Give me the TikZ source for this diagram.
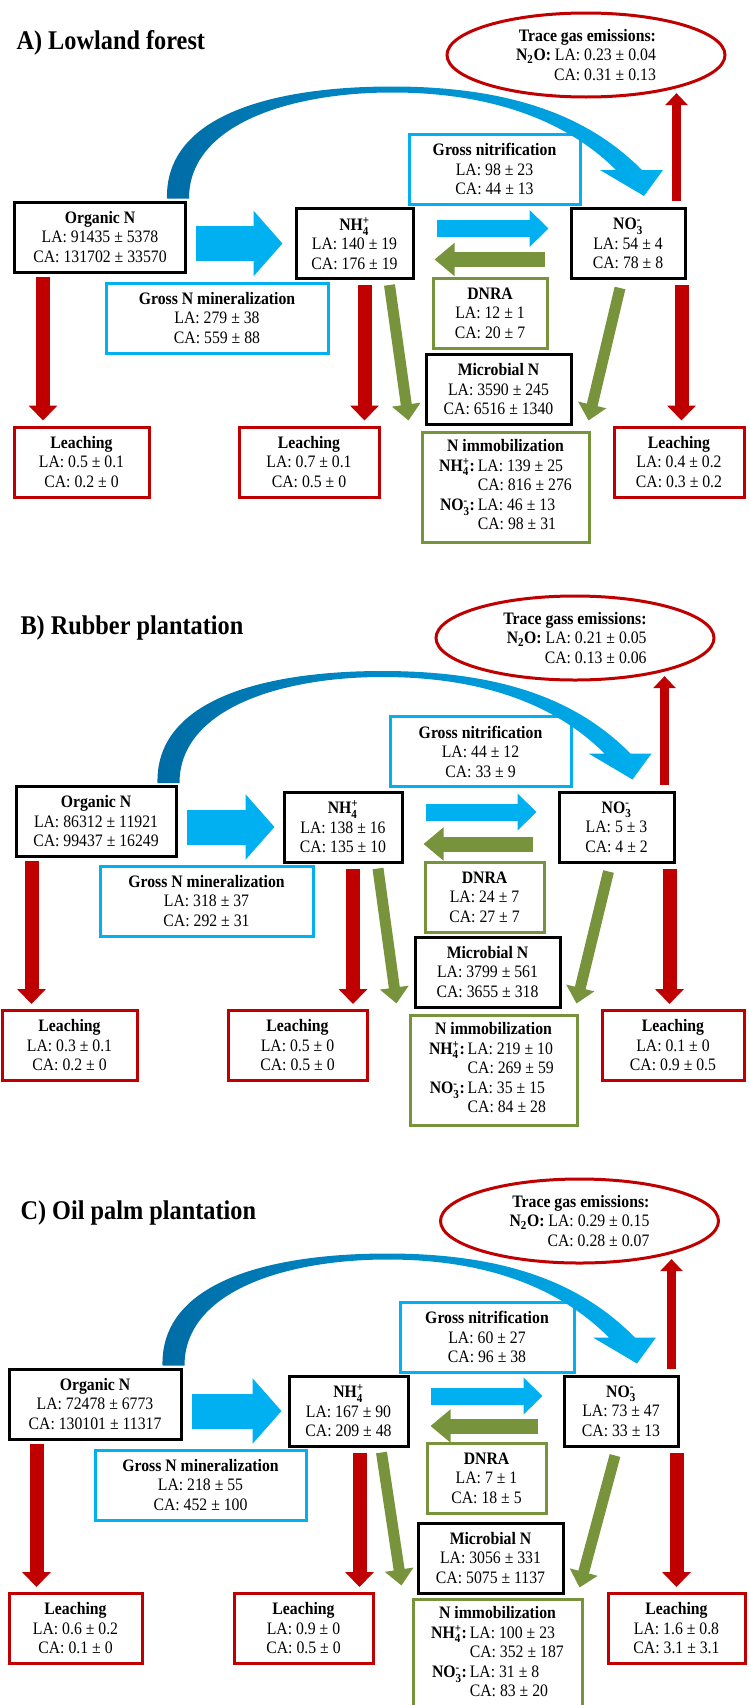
\documentclass[tikz,border=0pt]{standalone}
\usepackage{amsmath}
\usepackage{fontspec}
\setmainfont{Liberation Serif}[FakeStretch=0.9]
\usepackage{tikz}
\usetikzlibrary{arrows.meta,shapes.geometric,calc,positioning}
\definecolor{nred}{RGB}{192,0,0}
\definecolor{ngreen}{RGB}{119,147,60}
\definecolor{nblue}{RGB}{0,176,240}
\definecolor{ndarkblue}{RGB}{0,108,165}
\newcommand{\ion}[3]{#1$_{\text{#2}}^{\text{#3}}$}
\tikzset{
	pbox/.style={draw, line width=3pt, fill=white, align=center, inner sep=0pt, minimum height=70pt, font=\fontsize{17.5}{19.5}\selectfont},
	blackbox/.style={pbox, draw=black},
	bluebox/.style={pbox, draw=nblue},
	greenbox/.style={pbox, draw=ngreen},
	redbox/.style={pbox, draw=nred},
	gasnode/.style={ellipse, draw=nred, line width=3pt, fill=white, align=right, inner sep=0pt, minimum width=278pt, minimum height=84pt, font=\fontsize{17.5}{19.5}\selectfont},
	paneltitle/.style={anchor=west, font=\fontsize{27}{30}\selectfont\bfseries},
	redflow/.style={draw=nred, line width=14pt, shorten >=5pt, -{Triangle[width=28pt,length=15pt]}},
	upflow/.style={draw=nred, line width=9pt, shorten >=5pt, -{Triangle[width=22pt,length=12pt]}},
	greenflow/.style={draw=ngreen, line width=11pt, -{Triangle[width=28pt,length=16pt]}},
	dnraflow/.style={draw=ngreen, line width=15pt, -{Triangle[width=32pt,length=20pt]}},
	nitflow/.style={draw=nblue, line width=17pt, -{Triangle[width=36pt,length=19pt]}},
	minflow/.style={draw=nblue, line width=35pt, -{Triangle[width=64pt,length=29pt]}}
}
\newcommand{\immob}[5]{\begin{tabular}{@{}r@{\,}l@{}}\multicolumn{2}{c}{\textbf{#1}}\\
	\textbf{\ion{NH}{4}{+}:} & LA: #2\\ & CA: #3\\
	\textbf{\ion{NO}{3}{-}:} & LA: #4\\ & CA: #5\end{tabular}}
\newcommand{\curvedflow}[2]{
	\coordinate (so) at ($(#1.north east)+(-20,-2)$);
	\coordinate (si) at ($(#1.north east)+(2,-2)$);
	\coordinate (pko) at ($(#1.north east)+(205,-114)$);
	\coordinate (pki) at ($(#1.north east)+(205,-108)$);
	\coordinate (ho) at ($(#2.north)+(14,-37)$);
	\coordinate (hi) at ($(#2.north)+(-12,-37)$);
	\coordinate (hr) at ($(#2.north)+(35,-37)$);
	\coordinate (hl) at ($(#2.north)+(-28,-37)$);
	\coordinate (tp) at ($(#2.north)+(16,-11)$);
	\shade[left color=ndarkblue, right color=nblue] (so) .. controls +(-2,-85) and +(-115,0) .. (pko) .. controls +(135,0) and +(-45,-45) .. (ho) -- (hr) -- (tp) -- (hl) -- (hi) .. controls +(-40,-40) and +(115,0) .. (pki) .. controls +(-100,0) and +(0,-75) .. (si) -- cycle;
}
\begin{document}
\begin{tikzpicture}[x=1pt,y=-1pt]
	\useasboundingbox (0,0) rectangle (748,1705);
	% A) Lowland forest
	\node[paneltitle] (titleA) at (13,43) {A) Lowland forest};
	\node[gasnode] (gasA) at (586,55) {\textbf{Trace gas emissions:}\\\textbf{N\textsubscript{2}O:} LA: 0.23 ± 0.04\\CA: 0.31 ± 0.13};
	\node[blackbox, minimum width=171pt] (orgA) at (100,237) {\textbf{Organic N}\\LA: 91435 ± 5378\\CA: 131702 ± 33570};
	\node[blackbox, minimum width=117pt] (nh4A) at (354.5,243.5) {\textbf{\ion{NH}{4}{+}}\\LA: 140 ± 19\\CA: 176 ± 19};
	\node[blackbox, minimum width=114pt] (no3A) at (628,243.5) {\textbf{\ion{NO}{3}{-}}\\LA: 54 ± 4\\CA: 78 ± 8};
	\node[bluebox, minimum width=171pt] (nitA) at (494.5,169) {\textbf{Gross nitrification}\\LA: 98 ± 23\\CA: 44 ± 13};
	\node[bluebox, minimum width=222pt] (minA) at (217,318) {\textbf{Gross N mineralization}\\LA: 279 ± 38\\CA: 559 ± 88};
	\node[greenbox, minimum width=114pt] (dnraA) at (490,313) {\textbf{DNRA}\\LA: 12 ± 1\\CA: 20 ± 7};
	\node[blackbox, minimum width=145pt] (micA) at (498.5,389.5) {\textbf{Microbial N}\\LA: 3590 ± 245\\CA: 6516 ± 1340};
	\node[redbox, minimum width=135pt] (leachA1) at (81.5,462) {\textbf{Leaching}\\LA: 0.5 ± 0.1\\CA: 0.2 ± 0};
	\node[redbox, minimum width=140pt] (leachA2) at (309,462) {\textbf{Leaching}\\LA: 0.7 ± 0.1\\CA: 0.5 ± 0};
	\node[redbox, minimum width=130pt] (leachA3) at (679,462) {\textbf{Leaching}\\LA: 0.4 ± 0.2\\CA: 0.3 ± 0.2};
	\node[greenbox, minimum width=167pt, minimum height=110pt] (nimmA) at (505.5,487) {\immob{N immobilization}{139 ± 25}{816 ± 276}{46 ± 13}{98 ± 31}};
	\curvedflow{orgA}{no3A}
	\draw[minflow] ($(orgA.east |- nh4A.west)+(9,0)$) -- ($(nh4A.west)+(-12,0)$);
	\draw[nitflow] ($(nh4A.east)+(22,-15)$) -- ($(no3A.west)+(-21,-15)$);
	\draw[dnraflow] ($(no3A.west)+(-25,16)$) -- ($(nh4A.east)+(20,16)$);
	\draw[redflow] ($(orgA.south west)+(30,3)$) coordinate (a) -- (a |- leachA1.north);
	\draw[redflow] ($(nh4A.south)+(10,5)$) coordinate (a) -- (a |- leachA2.north);
	\draw[redflow] ($(no3A.south east)+(-5,5)$) coordinate (a) -- (a |- leachA3.north);
	\draw[upflow] ($(no3A.north east)+(-10,-6)$) coordinate (a) -- (a |- gasA.-20);
	\draw[greenflow] ($(nh4A.south)+(35,5)$) -- ($(nimmA.north west)+(-12,-10)$);
	\draw[greenflow] ($(no3A.south)+(-8,8)$) -- ($(nimmA.north east)+(-2,-10)$);
	% B) Rubber plantation
	\node[paneltitle] (titleB) at (17,628) {B) Rubber plantation};
	\node[gasnode] (gasB) at (575,638) {\textbf{Trace gass emissions:}\\\textbf{N\textsubscript{2}O:} LA: 0.21 ± 0.05\\CA: 0.13 ± 0.06};
	\node[blackbox, minimum width=160pt] (orgB) at (96,821.5) {\textbf{Organic N}\\LA: 86312 ± 11921\\CA: 99437 ± 16249};
	\node[blackbox, minimum width=118pt] (nh4B) at (343,827) {\textbf{\ion{NH}{4}{+}}\\LA: 138 ± 16\\CA: 135 ± 10};
	\node[blackbox, minimum width=115pt] (no3B) at (616.5,827) {\textbf{\ion{NO}{3}{-}}\\LA: 5 ± 3\\CA: 4 ± 2};
	\node[bluebox, minimum width=181pt] (nitB) at (480.5,751.5) {\textbf{Gross nitrification}\\LA: 44 ± 12\\CA: 33 ± 9};
	\node[bluebox, minimum width=213pt] (minB) at (206.5,901) {\textbf{Gross N mineralization}\\LA: 318 ± 37\\CA: 292 ± 31};
	\node[greenbox, minimum width=119pt] (dnraB) at (484.5,897) {\textbf{DNRA}\\LA: 24 ± 7\\CA: 27 ± 7};
	\node[blackbox, minimum width=145pt] (micB) at (487.5,972) {\textbf{Microbial N}\\LA: 3799 ± 561\\CA: 3655 ± 318};
	\node[redbox, minimum width=135pt] (leachB1) at (69.5,1045.5) {\textbf{Leaching}\\LA: 0.3 ± 0.1\\CA: 0.2 ± 0};
	\node[redbox, minimum width=139pt] (leachB2) at (297.5,1045.5) {\textbf{Leaching}\\LA: 0.5 ± 0\\CA: 0.5 ± 0};
	\node[redbox, minimum width=142pt] (leachB3) at (673,1045.5) {\textbf{Leaching}\\LA: 0.1 ± 0\\CA: 0.9 ± 0.5};
	\node[greenbox, minimum width=167pt, minimum height=110pt] (nimmB) at (493.5,1070) {\immob{N immobilization}{219 ± 10}{269 ± 59}{35 ± 15}{84 ± 28}};
	\curvedflow{orgB}{no3B}
	\draw[minflow] ($(orgB.east |- nh4B.west)+(9,0)$) -- ($(nh4B.west)+(-8,0)$);
	\draw[nitflow] ($(nh4B.east)+(22,-15)$) -- ($(no3B.west)+(-21,-15)$);
	\draw[dnraflow] ($(no3B.west)+(-25,17)$) -- ($(nh4B.east)+(20,17)$);
	\draw[redflow] ($(orgB.south west)+(17,3)$) coordinate (a) -- (a |- leachB1.north);
	\draw[redflow] ($(nh4B.south)+(10,5)$) coordinate (a) -- (a |- leachB2.north);
	\draw[redflow] ($(no3B.south east)+(-6,5)$) coordinate (a) -- (a |- leachB3.north);
	\draw[upflow] ($(no3B.north east)+(-11,-6)$) coordinate (a) -- (a |- gasB.-20);
	\draw[greenflow] ($(nh4B.south)+(35,5)$) -- ($(nimmB.north west)+(-12,-10)$);
	\draw[greenflow] ($(no3B.south)+(-8,8)$) -- ($(nimmB.north east)+(-2,-10)$);
	% C) Oil palm plantation
	\node[paneltitle] (titleC) at (17,1213) {C) Oil palm plantation};
	\node[gasnode] (gasC) at (579.5,1221) {\textbf{Trace gas emissions:}\\\textbf{N\textsubscript{2}O:} LA: 0.29 ± 0.15\\CA: 0.28 ± 0.07};
	\node[blackbox, minimum width=172pt] (orgC) at (95,1404) {\textbf{Organic N}\\LA: 72478 ± 6773\\CA: 130101 ± 11317};
	\node[blackbox, minimum width=119pt] (nh4C) at (348.5,1411) {\textbf{\ion{NH}{4}{+}}\\LA: 167 ± 90\\CA: 209 ± 48};
	\node[blackbox, minimum width=114pt] (no3C) at (621,1411) {\textbf{\ion{NO}{3}{-}}\\LA: 73 ± 47\\CA: 33 ± 13};
	\node[bluebox, minimum width=174pt] (nitC) at (487,1337) {\textbf{Gross nitrification}\\LA: 60 ± 27\\CA: 96 ± 38};
	\node[bluebox, minimum width=211pt] (minC) at (200.5,1485) {\textbf{Gross N mineralization}\\LA: 218 ± 55\\CA: 452 ± 100};
	\node[greenbox, minimum width=119pt] (dnraC) at (486.5,1478) {\textbf{DNRA}\\LA: 7 ± 1\\CA: 18 ± 5};
	\node[blackbox, minimum width=145pt] (micC) at (490.5,1558) {\textbf{Microbial N}\\LA: 3056 ± 331\\CA: 5075 ± 1137};
	\node[redbox, minimum width=133pt] (leachC1) at (75.5,1628.5) {\textbf{Leaching}\\LA: 0.6 ± 0.2\\CA: 0.1 ± 0};
	\node[redbox, minimum width=139pt] (leachC2) at (303.5,1628.5) {\textbf{Leaching}\\LA: 0.9 ± 0\\CA: 0.5 ± 0};
	\node[redbox, minimum width=137pt] (leachC3) at (676.5,1628.5) {\textbf{Leaching}\\LA: 1.6 ± 0.8\\CA: 3.1 ± 3.1};
	\node[greenbox, minimum width=169pt, minimum height=110pt] (nimmC) at (497.5,1654) {\immob{N immobilization}{100 ± 23}{352 ± 187}{31 ± 8}{83 ± 20}};
	\curvedflow{orgC}{no3C}
	\draw[minflow] ($(orgC.east |- nh4C.west)+(9,0)$) -- ($(nh4C.west)+(-6,0)$);
	\draw[nitflow] ($(nh4C.east)+(21,-15)$) -- ($(no3C.west)+(-20,-15)$);
	\draw[dnraflow] ($(no3C.west)+(-25,15)$) -- ($(nh4C.east)+(21,15)$);
	\draw[redflow] ($(orgC.south west)+(29,3)$) coordinate (a) -- (a |- leachC1.north);
	\draw[redflow] ($(nh4C.south)+(11,5)$) coordinate (a) -- (a |- leachC2.north);
	\draw[redflow] ($(no3C.south east)+(-3,5)$) coordinate (a) -- (a |- leachC3.north);
	\draw[upflow] ($(no3C.north east)+(-8,-6)$) coordinate (a) -- (a |- gasC.-20);
	\draw[greenflow] ($(nh4C.south)+(33,5)$) -- ($(nimmC.north west)+(-10,-12)$);
	\draw[greenflow] ($(no3C.south)+(-6,8)$) -- ($(nimmC.north east)+(-4,-10)$);
\end{tikzpicture}
\end{document}
